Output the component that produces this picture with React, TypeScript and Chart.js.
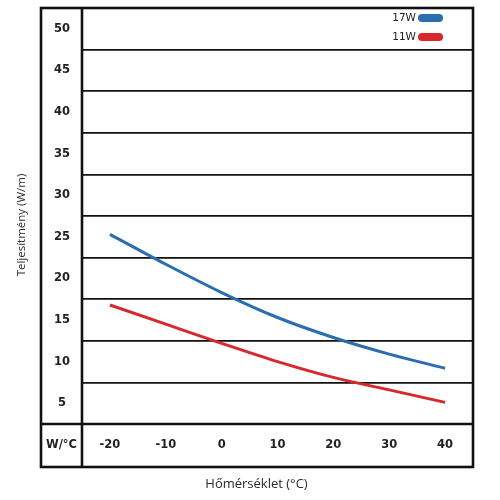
import { useEffect, useRef } from "react";
import { Chart, registerables } from "chart.js";

Chart.register(...registerables);

const TEMPS = [-20, -10, 0, 10, 20, 30, 40];
const SERIES_17W = [25.3, 21.7, 18.3, 15.3, 12.9, 10.9, 9.2];
const SERIES_11W = [16.8, 14.5, 12.2, 10.0, 8.1, 6.6, 5.1];
const SERIES_LABELS = ["17W", "11W"];
const SERIES_COLORS = ["#2a6db0", "#d8282b"];
const Y_TICKS = [5, 10, 15, 20, 25, 30, 35, 40, 45, 50];
const X_TICKS = [-20, -10, 0, 10, 20, 30, 40];
const CORNER_LABEL = "W/°C";
const X_TITLE = "Hőmérséklet (°C)";
const Y_TITLE = "Teljesítmény (W/m)";

const TICK_FONT = { family: "'DejaVu Sans', Verdana, sans-serif", size: 11.5, weight: "bold" as const };

const framePlugin = {
  id: "frame",
  afterDraw(chart: any) {
    const { ctx, chartArea } = chart;
    const xs = chart.scales.x;
    const ys = chart.scales.y;
    const left = ys.left;
    const right = chartArea.right;
    const top = chartArea.top;
    const bottom = xs.bottom;
    ctx.save();
    ctx.strokeStyle = "#111";
    ctx.lineWidth = 2.6;
    ctx.strokeRect(left, top, right - left, bottom - top);
    ctx.beginPath();
    ctx.moveTo(chartArea.left, top);
    ctx.lineTo(chartArea.left, bottom);
    ctx.moveTo(left, chartArea.bottom);
    ctx.lineTo(right, chartArea.bottom);
    ctx.stroke();

    // corner label
    ctx.fillStyle = "#222";
    ctx.font = "bold 11.5px 'DejaVu Sans', Verdana, sans-serif";
    ctx.textAlign = "center";
    ctx.textBaseline = "middle";
    ctx.fillText(CORNER_LABEL, (left + chartArea.left) / 2, (chartArea.bottom + bottom) / 2);

    // axis titles
    ctx.fillStyle = "#2a2a2a";
    ctx.font = "13px 'Open Sans', sans-serif";
    ctx.fillText(X_TITLE, 256.5, 484.5);
    ctx.font = "11.5px 'Open Sans', sans-serif";
    ctx.translate(22, 225);
    ctx.rotate(-Math.PI / 2);
    ctx.fillText(Y_TITLE, 0, 0);
    ctx.restore();

    // legend
    ctx.save();
    ctx.font = "10.5px 'DejaVu Sans', Verdana, sans-serif";
    ctx.textAlign = "right";
    ctx.textBaseline = "middle";
    chart.data.datasets.forEach((ds: any, i: number) => {
      const cy = top + 10 + i * 19;
      const bx = right - 55;
      ctx.fillStyle = "#222";
      ctx.fillText(ds.label, bx - 2, cy);
      ctx.fillStyle = ds.borderColor;
      ctx.beginPath();
      (ctx as any).roundRect(bx, cy - 4, 25, 8, 4);
      ctx.fill();
    });
    ctx.restore();
  },
};

export default function App() {
  const ref = useRef<HTMLCanvasElement | null>(null);

  useEffect(() => {
    document.body.style.margin = "0";
    if (!ref.current) return;
    const seriesValues = [SERIES_17W, SERIES_11W];
    const chart = new Chart(ref.current, {
      type: "line",
      data: {
        datasets: seriesValues.map((vals, i) => ({
          label: SERIES_LABELS[i],
          data: TEMPS.map((t, j) => ({ x: t, y: vals[j] })),
          borderColor: SERIES_COLORS[i],
          backgroundColor: SERIES_COLORS[i],
          borderWidth: 3,
          pointRadius: 0,
          fill: false,
          cubicInterpolationMode: "monotone" as const,
        })),
      },
      options: {
        responsive: false,
        animation: false,
        layout: { padding: { left: 41, top: 8, right: 27, bottom: 33 } },
        plugins: {
          legend: { display: false },
          tooltip: { enabled: false },
        },
        scales: {
          x: {
            type: "linear",
            min: -25,
            max: 45,
            afterBuildTicks: (s: any) => {
              s.ticks = X_TICKS.map((v) => ({ value: v }));
            },
            afterFit: (s: any) => {
              s.height = 43;
              s.paddingLeft = 0;
              s.paddingRight = 0;
            },
            grid: { display: false, drawTicks: false },
            border: { display: false },
            ticks: {
              autoSkip: false,
              maxRotation: 0,
              padding: 14,
              color: "#222",
              font: TICK_FONT,
            },
          },
          y: {
            type: "linear",
            min: 2.5,
            max: 52.5,
            afterBuildTicks: (s: any) => {
              s.ticks = Y_TICKS.map((v) => ({ value: v }));
            },
            afterFit: (s: any) => {
              s.width = 41;
              s.paddingTop = 0;
              s.paddingBottom = 0;
            },
            grid: { offset: true, drawTicks: false, color: "#111", lineWidth: 1.7 },
            border: { display: false },
            ticks: {
              crossAlign: "center",
              padding: 12,
              color: "#222",
              font: TICK_FONT,
            },
          },
        },
      },
      plugins: [framePlugin],
    });
    return () => chart.destroy();
  }, []);

  return (
    <div style={{ width: 500, height: 500 }}>
      <canvas ref={ref} width={500} height={500} style={{ display: "block" }} />
    </div>
  );
}
